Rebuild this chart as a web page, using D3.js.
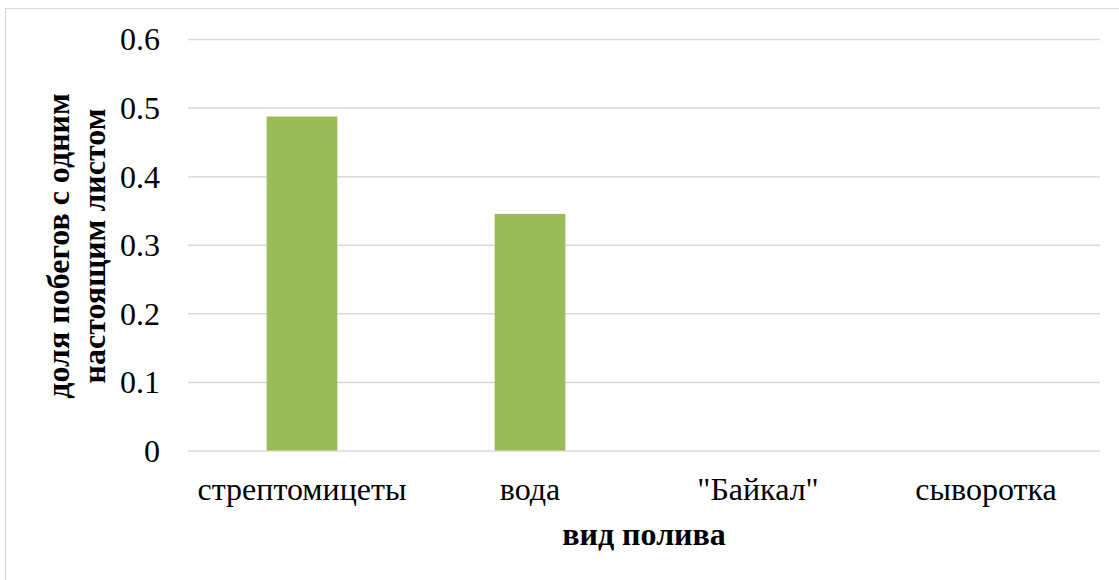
<!DOCTYPE html>
<html><head><meta charset="utf-8">
<script src="https://cdn.jsdelivr.net/npm/d3@7"></script>
<style>body{margin:0;background:#fff}svg{display:block}</style>
</head><body>
<script>
const categories = ['стрептомицеты', 'вода', '"Байкал"', 'сыворотка'];
const values = [0.487, 0.345, 0, 0];
const yTicks = [0, 0.1, 0.2, 0.3, 0.4, 0.5, 0.6];
const yTitle = ['доля побегов с одним', 'настоящим листом'];
const xTitle = 'вид полива';

const W = 1119, H = 580;
const svg = d3.select('body').append('svg').attr('width', W).attr('height', H);
svg.append('rect').attr('x', 5.5).attr('y', 8.5).attr('width', 1300).attr('height', 800)
  .attr('fill', '#fff').attr('stroke', '#d9d9d9').attr('stroke-width', 1);

const m = {left: 188, right: 1100, top: 39, bottom: 450.5};
const y = d3.scaleLinear().domain([0, 0.6]).range([m.bottom, m.top]);
const x = d3.scaleBand().domain(categories).range([m.left, m.right]).paddingInner(0.69).paddingOuter(0.345);

const font = 'Liberation Serif';

const gy = svg.append('g').attr('transform', `translate(${m.left},0)`)
  .call(d3.axisLeft(y).tickValues(yTicks).tickSize(-(m.right - m.left)).tickPadding(28).tickFormat(d => d === 0 ? '0' : d3.format('.1f')(d)));
gy.select('.domain').remove();
gy.selectAll('.tick line').attr('stroke', '#d9d9d9').attr('stroke-width', 1.5);
gy.selectAll('.tick text').style('font-family', font).style('font-size', '32px').attr('fill', '#000').attr('dy', '0.34em');

svg.selectAll('rect.bar').data(values).enter().append('rect').attr('class', 'bar')
  .attr('x', (d, i) => x(categories[i])).attr('width', x.bandwidth())
  .attr('y', d => y(d)).attr('height', d => y(0) - y(d)).attr('fill', '#9bbb59');

const gx = svg.append('g').attr('transform', `translate(0,${m.bottom})`)
  .call(d3.axisBottom(x).tickSize(0).tickPadding(0));
gx.select('.domain').remove();
gx.selectAll('.tick text').style('font-family', font).style('font-size', '32px').attr('fill', '#000')
  .attr('dy', null).attr('y', 49);

svg.append('text').attr('x', (m.left + m.right) / 2).attr('y', 545).attr('text-anchor', 'middle')
  .style('font-family', font).style('font-weight', 'bold').style('font-size', '32px').text(xTitle);

const yt = svg.append('text').attr('transform', `translate(0,246) rotate(-90)`)
  .attr('text-anchor', 'middle').style('font-family', font).style('font-weight', 'bold').style('font-size', '32px');
yt.selectAll('tspan').data(yTitle).enter().append('tspan').attr('x', 0).attr('y', (d, i) => 69 + i * 36).text(d => d);
</script>
</body></html>
